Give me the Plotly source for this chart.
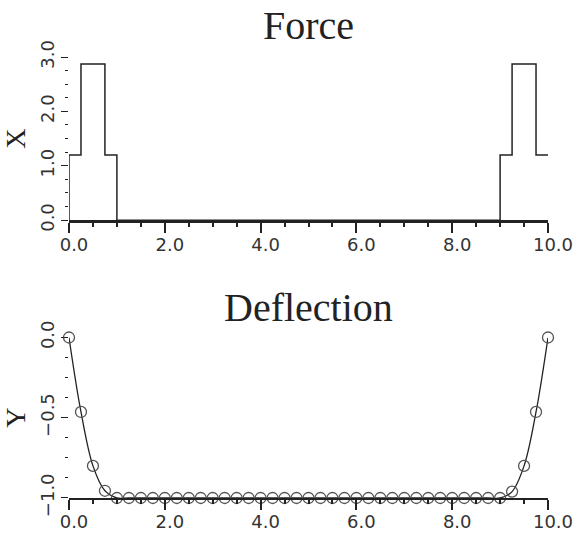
import plotly.graph_objects as go

# ---- data ----
force_x = [0.0, 0.0, 0.25, 0.75, 1.0, 9.0, 9.25, 9.75, 10.0]
force_y = [0.0, 1.2, 2.87, 1.2, 0.0, 1.2, 2.87, 1.2, 1.2]

defl_x = [0.0, 0.25, 0.5, 0.75, 1.0, 1.25, 1.5, 1.75, 2.0, 2.25, 2.5, 2.75,
          3.0, 3.25, 3.5, 3.75, 4.0, 4.25, 4.5, 4.75, 5.0, 5.25, 5.5, 5.75,
          6.0, 6.25, 6.5, 6.75, 7.0, 7.25, 7.5, 7.75, 8.0, 8.25, 8.5, 8.75,
          9.0, 9.25, 9.5, 9.75, 10.0]
defl_y = [0.0, -0.464, -0.80, -0.955,
          -1.0, -1.0, -1.0, -1.0, -1.0, -1.0, -1.0, -1.0, -1.0, -1.0, -1.0,
          -1.0, -1.0, -1.0, -1.0, -1.0, -1.0, -1.0, -1.0, -1.0, -1.0, -1.0,
          -1.0, -1.0, -1.0, -1.0, -1.0, -1.0, -1.0, -1.0, -1.0, -1.0, -1.0,
          -0.96, -0.80, -0.464, 0.0]

titles = ["Force", "Deflection"]
ytitles = ["X", "Y"]

SERIF = "Liberation Serif"
SANS = "DejaVu Sans"
INK = "#222222"

fig = go.Figure()
fig.add_trace(go.Scatter(x=force_x, y=force_y, mode="lines", line_shape="hv",
                         line=dict(color=INK, width=1.5), xaxis="x", yaxis="y",
                         showlegend=False))
fig.add_trace(go.Scatter(x=defl_x, y=defl_y, mode="lines", line_shape="spline",
                         line=dict(color=INK, width=1.3), xaxis="x2", yaxis="y2",
                         showlegend=False, cliponaxis=False))
fig.add_trace(go.Scatter(x=defl_x, y=defl_y, mode="markers",
                         marker=dict(symbol="circle-open", size=11,
                                     color="#555555", line=dict(width=1.3, color="#555555")),
                         xaxis="x2", yaxis="y2", showlegend=False, cliponaxis=False))

tickfont = dict(family=SANS, size=18, color="#333333")

def xax(anchor, linew):
    return dict(anchor=anchor, domain=[0, 1], range=[0, 10], showgrid=False,
                zeroline=False, showline=True, linecolor=INK, linewidth=linew,
                ticks="outside", ticklen=10, tickwidth=1.5, tickcolor=INK,
                tick0=0, dtick=2, tickformat=".1f", tickfont=tickfont,
                ticklabelshift=5, ticklabelstandoff=-4, ticklabeloverflow="allow",
                automargin=False,
                minor=dict(ticks="outside", dtick=0.5, ticklen=4, tickwidth=1.5,
                           tickcolor=INK))

def yax(anchor, dom, rng, dtick, mdtick, title):
    return dict(anchor=anchor, domain=dom, range=rng, showgrid=False,
                zeroline=False, showline=False, ticks="outside", ticklen=7,
                tickwidth=1.2, tickcolor=INK, tick0=0, dtick=dtick,
                tickformat=".1f", tickangle=-90, tickfont=tickfont,
                automargin=False,
                title=dict(text=title, font=dict(family=SERIF, size=28, color=INK),
                           standoff=10),
                minor=dict(ticks="outside", dtick=mdtick, ticklen=3, tickwidth=1.2,
                           tickcolor=INK))

fig.update_layout(
    width=573, height=533,
    margin=dict(l=69, r=25, t=57, b=35),
    paper_bgcolor="white", plot_bgcolor="white",
    xaxis=xax("y", 2.5),
    yaxis=yax("x", [0.63, 1.0], [0, 3], 1, 0.25, ytitles[0]),
    xaxis2=xax("y2", 1.8),
    yaxis2=yax("x2", [0.0, 0.364], [-1, 0], 0.5, 0.125, ytitles[1]),
    annotations=[
        dict(text=titles[0], x=0.5, y=1.072, xref="paper", yref="paper",
             xanchor="center", yanchor="middle", showarrow=False,
             font=dict(family=SERIF, size=40, color=INK)),
        dict(text=titles[1], x=0.5, y=0.432, xref="paper", yref="paper",
             xanchor="center", yanchor="middle", showarrow=False,
             font=dict(family=SERIF, size=40, color=INK)),
    ],
)

fig.write_html("out.html")
